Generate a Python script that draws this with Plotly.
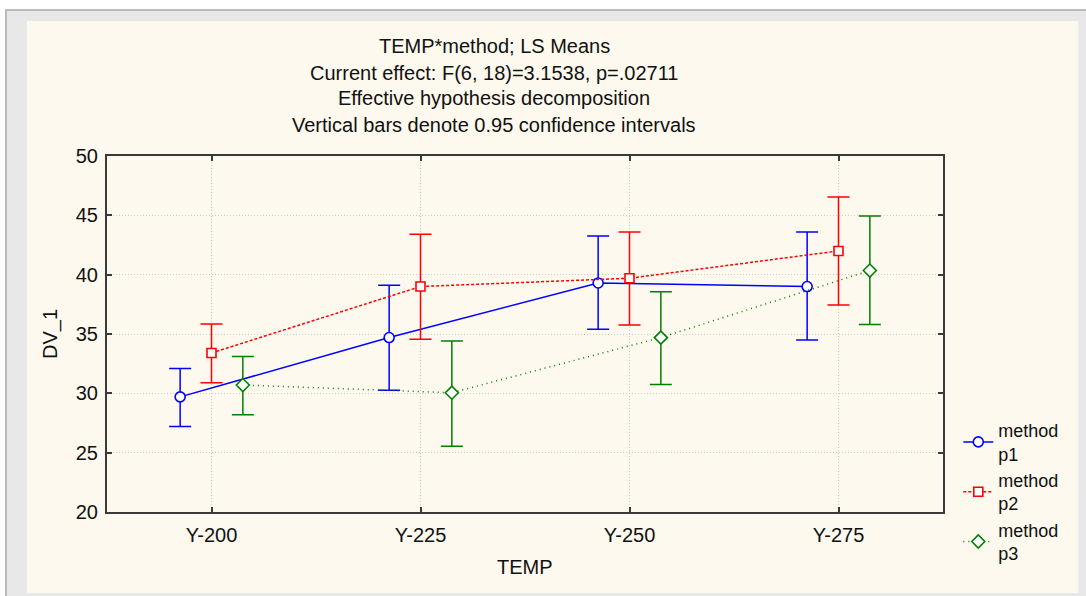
import plotly.graph_objects as go
import numpy as np

# ---- data ----
categories = ["Y-200", "Y-225", "Y-250", "Y-275"]
series_names = ["method<br>p1", "method<br>p2", "method<br>p3"]

p1_mean = [29.7, 34.7, 39.3, 39.0]
p1_low = [27.2, 30.25, 35.4, 34.5]
p1_high = [32.1, 39.1, 43.25, 43.6]

p2_mean = [33.4, 39.0, 39.7, 42.0]
p2_low = [30.9, 34.55, 35.75, 37.45]
p2_high = [35.85, 43.4, 43.6, 46.55]

p3_mean = [30.7, 30.05, 34.7, 40.35]
p3_low = [28.2, 25.55, 30.75, 35.8]
p3_high = [33.1, 34.4, 38.55, 44.95]

y_ticks = [20, 25, 30, 35, 40, 45, 50]

title_lines = [
    "TEMP*method; LS Means",
    "Current effect: F(6, 18)=3.1538, p=.02711",
    "Effective hypothesis decomposition",
    "Vertical bars denote 0.95 confidence intervals",
]

# ---- layout geometry (pixels) ----
W, H = 1086, 596
L, R, T, B = 107, 942.7, 156, 512
FONT = "Liberation Sans, Arial, sans-serif"
FS = 20


def px_x(px):
    return (px - L) / (R - L)


def px_y(py):
    return (B - py) / (B - T)


styles = [
    dict(color="#0000ff", dash="solid", symbol="circle", size=10),
    dict(color="#ff0000", dash="3px,2px", symbol="square", size=9),
    dict(color="#008000", dash="1px,4px", symbol="diamond", size=10),
]
offsets = [-0.15, 0.0, 0.15]
means = [p1_mean, p2_mean, p3_mean]
lows = [p1_low, p2_low, p3_low]
highs = [p1_high, p2_high, p3_high]

fig = go.Figure()
base_x = np.arange(len(categories))
for name, m, lo, hi, st, off in zip(series_names, means, lows, highs, styles, offsets):
    m = np.array(m)
    fig.add_trace(go.Scatter(
        x=base_x + off,
        y=m,
        mode="lines+markers",
        name=name,
        line=dict(color=st["color"], width=1.5, dash=st["dash"]),
        marker=dict(symbol=st["symbol"], size=st["size"], color="white",
                    line=dict(color=st["color"], width=1.6)),
        error_y=dict(type="data", symmetric=False,
                     array=np.array(hi) - m, arrayminus=m - np.array(lo),
                     color=st["color"], thickness=1.5, width=11),
    ))

shapes = [
    # outer grey frame
    dict(type="rect", xref="paper", yref="paper", layer="below",
         x0=px_x(6), x1=px_x(1090), y0=px_y(600), y1=px_y(10),
         fillcolor="#e8e8e8", line=dict(color="#a8a8a8", width=1.5)),
    # cream panel
    dict(type="rect", xref="paper", yref="paper", layer="below",
         x0=px_x(27), x1=px_x(1078), y0=px_y(593), y1=px_y(21),
         fillcolor="#fdf9ee", line=dict(width=0)),
]

annotations = []
title_y = [45.7, 73.3, 98.3, 125]
for txt, py in zip(title_lines, title_y):
    annotations.append(dict(text=txt, x=px_x(494), y=px_y(py), xref="paper", yref="paper",
                            showarrow=False, xanchor="center", yanchor="middle",
                            font=dict(family=FONT, size=FS, color="#111111")))
annotations.append(dict(text="TEMP", x=px_x(525), y=px_y(567), xref="paper", yref="paper",
                        showarrow=False, xanchor="center", yanchor="middle",
                        font=dict(family=FONT, size=FS, color="#111111")))
annotations.append(dict(text="DV_1", x=px_x(50), y=px_y(334), xref="paper", yref="paper",
                        showarrow=False, xanchor="center", yanchor="middle", textangle=-90,
                        font=dict(family=FONT, size=FS, color="#111111")))

fig.update_layout(
    width=W, height=H,
    margin=dict(l=L, r=W - R, t=T, b=H - B, pad=0),
    paper_bgcolor="white",
    plot_bgcolor="white",
    font=dict(family=FONT, size=FS, color="#111111"),
    shapes=shapes,
    annotations=annotations,
    showlegend=True,
    legend=dict(x=px_x(958), y=px_y(412), xanchor="left", yanchor="top",
                bgcolor="rgba(0,0,0,0)", borderwidth=0, tracegroupgap=0,
                font=dict(family=FONT, size=18, color="#111111")),
    xaxis=dict(
        range=[-0.5, 3.5], tickmode="array", tickvals=list(base_x), ticktext=categories,
        showgrid=True, gridcolor="#cccccc", griddash="1px,2px", gridwidth=1,
        showline=True, linecolor="#3a3a3a", linewidth=2, mirror="allticks",
        ticks="inside", ticklen=5, tickcolor="#3a3a3a", tickwidth=1.5,
        zeroline=False, ticklabelstandoff=4,
    ),
    yaxis=dict(
        range=[20, 50], tickmode="array", tickvals=y_ticks,
        showgrid=True, gridcolor="#cccccc", griddash="1px,2px", gridwidth=1,
        showline=True, linecolor="#3a3a3a", linewidth=2, mirror="allticks",
        ticks="inside", ticklen=5, tickcolor="#3a3a3a", tickwidth=1.5,
        zeroline=False, ticklabelstandoff=3,
    ),
)

fig.write_html("out.html", config={"displayModeBar": False},
               post_script="document.body.style.margin='0px';")
